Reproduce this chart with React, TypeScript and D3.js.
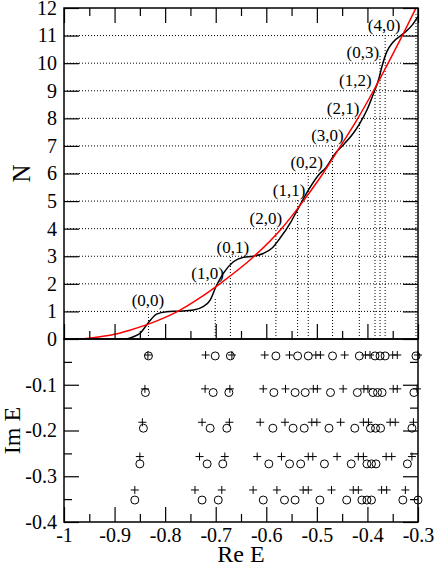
import React, { useEffect, useRef } from "react";
import * as d3 from "d3";

// smooth (Weyl-like) counting function, red
const redRe = [-0.965, -0.95, -0.9, -0.87, -0.82, -0.775, -0.733, -0.692, -0.624, -0.57, -0.527, -0.488, -0.453, -0.419, -0.388, -0.359, -0.331, -0.304];
const redN = [0, 0.03, 0.17, 0.32, 0.63, 1, 1.47, 2, 3, 4, 5, 6, 7, 8, 9, 10, 11, 12];

// smoothed staircase, black
const blackRe = [-1, -0.9, -0.875, -0.863, -0.85, -0.834, -0.817, -0.797, -0.771, -0.744, -0.725, -0.711, -0.699, -0.685, -0.665, -0.645, -0.626, -0.606, -0.589, -0.573, -0.553, -0.537, -0.523, -0.515, -0.497, -0.481, -0.464, -0.448, -0.428, -0.415, -0.401, -0.388, -0.378, -0.371, -0.362, -0.349, -0.329, -0.312, -0.3];
const blackN = [0, 0, 0.01, 0.08, 0.2, 0.57, 0.9, 0.99, 1.01, 1.05, 1.17, 1.41, 1.92, 2.38, 2.8, 2.96, 3.0, 3.1, 3.29, 3.65, 4.19, 4.73, 5.2, 5.45, 5.94, 6.24, 6.72, 7.03, 7.46, 7.82, 8.3, 8.9, 9.4, 9.9, 10.4, 10.77, 11.07, 11.37, 11.7];

// resonance labels
const stateLabels = ["(0,0)", "(1,0)", "(0,1)", "(2,0)", "(1,1)", "(0,2)", "(3,0)", "(2,1)", "(1,2)", "(0,3)", "(4,0)"];
const labelRe = [-0.834, -0.716, -0.666, -0.601, -0.555, -0.52, -0.479, -0.448, -0.424, -0.409, -0.367];
const labelN = [1.4, 2.39, 3.35, 4.4, 5.4, 6.43, 7.4, 8.39, 9.38, 10.42, 11.39];

// dotted drop lines
const lineRe = [-0.833, -0.701, -0.671, -0.581, -0.538, -0.517, -0.469, -0.416, -0.385, -0.375, -0.365, -0.304];
const lineTop = [0.9, 1.5, 3.0, 4.0, 5.1, 6.0, 7.0, 7.9, 9.0, 10.3, 11.1, 11.8];

// complex energies, circles
const circleIm = [-0.037, -0.117, -0.195, -0.273, -0.352];
const circleRe = [
  [-0.833, -0.701, -0.671, -0.581, -0.538, -0.517, -0.469, -0.416, -0.385, -0.375, -0.365, -0.304],
  [-0.839, -0.705, -0.674, -0.585, -0.543, -0.523, -0.473, -0.42, -0.389, -0.38, -0.371, -0.308],
  [-0.843, -0.711, -0.678, -0.587, -0.547, -0.525, -0.476, -0.425, -0.394, -0.384, -0.374, -0.312],
  [-0.85, -0.717, -0.686, -0.595, -0.554, -0.532, -0.485, -0.432, -0.401, -0.392, -0.383, -0.321],
  [-0.86, -0.727, -0.695, -0.606, -0.564, -0.543, -0.494, -0.441, -0.411, -0.401, -0.392, -0.33, -0.3],
];

// complex energies, pluses
const plusIm = [-0.035, -0.109, -0.182, -0.257, -0.33];
const plusRe = [
  [-0.834, -0.72, -0.668, -0.603, -0.554, -0.502, -0.493, -0.445, -0.404, -0.395, -0.35, -0.341, -0.3],
  [-0.84, -0.721, -0.672, -0.606, -0.562, -0.507, -0.499, -0.448, -0.407, -0.399, -0.349, -0.341, -0.302],
  [-0.845, -0.727, -0.673, -0.612, -0.563, -0.51, -0.5, -0.453, -0.408, -0.398, -0.355, -0.345, -0.309],
  [-0.85, -0.732, -0.682, -0.618, -0.57, -0.517, -0.508, -0.46, -0.418, -0.408, -0.363, -0.352, -0.312],
  [-0.86, -0.741, -0.688, -0.626, -0.579, -0.527, -0.517, -0.471, -0.428, -0.418, -0.372, -0.362, -0.325],
];

const nTicks = [0, 1, 2, 3, 4, 5, 6, 7, 8, 9, 10, 11, 12];
const imTicks = [-0.4, -0.3, -0.2, -0.1];
const imMinor = [-0.35, -0.25, -0.15, -0.05];
const reTicks = [-1, -0.9, -0.8, -0.7, -0.6, -0.5, -0.4, -0.3];
const reMinor = [-0.95, -0.85, -0.75, -0.65, -0.55, -0.45, -0.35];

const font = "'Liberation Serif', 'Times New Roman', serif";

export default function App() {
  const ref = useRef(null);

  useEffect(() => {
    const W = 436, H = 570;
    const left = 64, right = 418, top = 8, mid = 339, bottom = 522;

    const svg = d3.select(ref.current);
    svg.selectAll("*").remove();

    const x = d3.scaleLinear().domain([-1, -0.3]).range([left, right]);
    const yN = d3.scaleLinear().domain([0, 12]).range([mid, top]);
    const yIm = d3.scaleLinear().domain([-0.4, 0]).range([bottom, mid]);

    svg.append("rect").attr("width", W).attr("height", H).attr("fill", "#fff");

    svg.append("defs").append("clipPath").attr("id", "clipTop")
      .append("rect").attr("x", left).attr("y", top)
      .attr("width", right - left).attr("height", mid - top);

    /* dotted grid, top panel */
    svg.append("g").selectAll("line")
      .data(d3.range(1, 12))
      .join("line")
      .attr("x1", left).attr("x2", right)
      .attr("y1", (d) => yN(d)).attr("y2", (d) => yN(d))
      .attr("stroke", "#000").attr("stroke-width", 1)
      .attr("stroke-dasharray", "1,2");

    svg.append("g").selectAll("line")
      .data(lineRe)
      .join("line")
      .attr("x1", (d) => x(d)).attr("x2", (d) => x(d))
      .attr("y1", yN(0)).attr("y2", (d, i) => yN(lineTop[i]))
      .attr("stroke", "#000").attr("stroke-width", 1)
      .attr("stroke-dasharray", "1,2");

    /* curves */
    const redLine = d3.line<number>()
      .x((d, i) => x(redRe[i]))
      .y((d) => yN(d))
      .curve(d3.curveMonotoneX);
    const blackLine = d3.line<number>()
      .x((d, i) => x(blackRe[i]))
      .y((d) => yN(d))
      .curve(d3.curveMonotoneX);

    const curves = svg.append("g").attr("clip-path", "url(#clipTop)");
    curves.append("path").datum(blackN).attr("d", blackLine)
      .attr("fill", "none").attr("stroke", "#000").attr("stroke-width", 1.5);
    curves.append("path").datum(redN).attr("d", redLine)
      .attr("fill", "none").attr("stroke", "#ff0000").attr("stroke-width", 1.5);

    /* labels (n,m) */
    svg.append("g").selectAll("text")
      .data(stateLabels)
      .join("text")
      .attr("x", (d, i) => x(labelRe[i]))
      .attr("y", (d, i) => yN(labelN[i]))
      .attr("dy", "0.35em")
      .attr("text-anchor", "middle")
      .attr("font-family", font)
      .attr("font-size", 17)
      .text((d) => d);

    /* bottom panel markers */
    const circles = circleRe.flatMap((row, i) => row.map((re) => ({ re, im: circleIm[i] })));
    const pluses = plusRe.flatMap((row, i) => row.map((re) => ({ re, im: plusIm[i] })));

    svg.append("g").selectAll("circle")
      .data(circles)
      .join("circle")
      .attr("cx", (d) => x(d.re)).attr("cy", (d) => yIm(d.im))
      .attr("r", 4)
      .attr("fill", "none").attr("stroke", "#000").attr("stroke-width", 1);

    svg.append("g").selectAll("path")
      .data(pluses)
      .join("path")
      .attr("transform", (d) => "translate(" + x(d.re) + "," + yIm(d.im) + ")")
      .attr("d", "M-4,0H4M0,-4V4")
      .attr("stroke", "#000").attr("stroke-width", 1);

    /* frames */
    svg.append("rect").attr("x", left).attr("y", top)
      .attr("width", right - left).attr("height", mid - top)
      .attr("fill", "none").attr("stroke", "#000").attr("stroke-width", 1.5);
    svg.append("rect").attr("x", left).attr("y", mid)
      .attr("width", right - left).attr("height", bottom - mid)
      .attr("fill", "none").attr("stroke", "#000").attr("stroke-width", 1.5);

    /* axes: inward ticks on every side */
    const fmt = (d) => String(+(+d).toFixed(2));
    const none = () => "";
    const axisAt = (axis, tx, ty) => {
      svg.append("g")
        .attr("transform", "translate(" + tx + "," + ty + ")")
        .call(axis)
        .attr("font-family", font)
        .attr("font-size", 20)
        .call((s) => s.select(".domain").remove())
        .call((s) => s.selectAll("line").attr("stroke", "#000").attr("stroke-width", 1.2))
        .call((s) => s.selectAll("text").attr("fill", "#000"));
    };

    axisAt(d3.axisLeft(yN).tickValues(nTicks).tickSize(-15).tickPadding(7).tickFormat(fmt), left, 0);
    axisAt(d3.axisRight(yN).tickValues(nTicks).tickSize(-15).tickFormat(none), right, 0);
    axisAt(d3.axisTop(x).tickValues(reTicks).tickSize(-15).tickFormat(none), 0, top);
    axisAt(d3.axisTop(x).tickValues(reMinor).tickSize(-8).tickFormat(none), 0, top);
    axisAt(d3.axisTop(x).tickValues(reTicks).tickSize(15).tickFormat(none), 0, mid);
    axisAt(d3.axisTop(x).tickValues(reMinor).tickSize(8).tickFormat(none), 0, mid);

    axisAt(d3.axisLeft(yIm).tickValues(imTicks).tickSize(-15).tickPadding(7).tickFormat(fmt), left, 0);
    axisAt(d3.axisLeft(yIm).tickValues(imMinor).tickSize(-8).tickFormat(none), left, 0);
    axisAt(d3.axisRight(yIm).tickValues(imTicks).tickSize(-15).tickFormat(none), right, 0);
    axisAt(d3.axisRight(yIm).tickValues(imMinor).tickSize(-8).tickFormat(none), right, 0);
    axisAt(d3.axisBottom(x).tickValues(reTicks).tickSize(-15).tickPadding(6).tickFormat(fmt), 0, bottom);
    axisAt(d3.axisBottom(x).tickValues(reMinor).tickSize(-8).tickFormat(none), 0, bottom);

    /* titles */
    svg.append("text")
      .attr("transform", "translate(30," + (top + mid) / 2 + ") rotate(-90)")
      .attr("text-anchor", "middle")
      .attr("font-family", font).attr("font-size", 25)
      .text("N");
    svg.append("text")
      .attr("transform", "translate(20," + (mid + bottom) / 2 + ") rotate(-90)")
      .attr("text-anchor", "middle")
      .attr("font-family", font).attr("font-size", 24)
      .text("Im E");
    svg.append("text")
      .attr("x", (left + right) / 2).attr("y", 562)
      .attr("text-anchor", "middle")
      .attr("font-family", font).attr("font-size", 24)
      .text("Re E");
  }, []);

  return (
    <svg ref={ref} width={436} height={570}
      style={{ position: "absolute", left: 0, top: 0 }} />
  );
}
